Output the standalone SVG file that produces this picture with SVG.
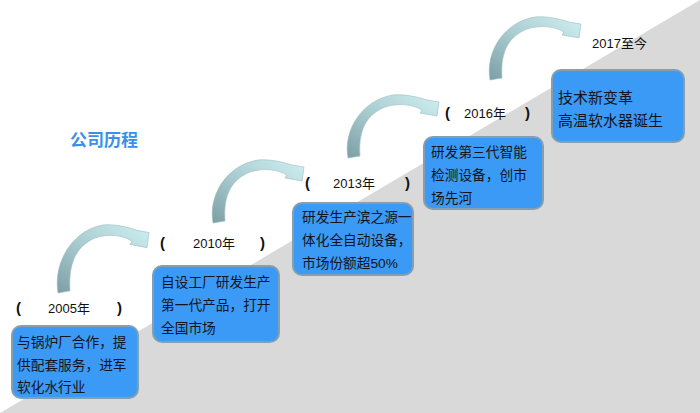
<svg xmlns="http://www.w3.org/2000/svg" xmlns:xlink="http://www.w3.org/1999/xlink" width="700" height="413" viewBox="0 0 700 413">
<style>
.box{fill:#3a9af6;stroke:#849fae;stroke-width:2}
.bt{font-family:"Liberation Sans","Noto Sans CJK SC",sans-serif;font-size:13.7px;fill:#141420}
.bt5{font-size:15px}
.yr{font-family:"Liberation Sans","Noto Sans CJK SC",sans-serif;font-size:13px;fill:#111}
.par{font-size:15px;font-weight:bold}
.title{font-family:"Noto Sans CJK SC","Liberation Sans",sans-serif;font-size:17px;font-weight:bold;fill:#3a8fe8}
.arr{fill:url(#ag);stroke:#9dbcc0;stroke-width:0.6}
</style>
<defs>
<linearGradient id="ag" x1="0" y1="1" x2="1" y2="0">
<stop offset="0" stop-color="#7b9fa4"/>
<stop offset="0.5" stop-color="#a9cdd1"/>
<stop offset="1" stop-color="#d0f0f2"/>
</linearGradient>
<path id="arrow" class="arr" d="M348,158 C343,130 362,100 393,95 C405,94 418,97 427,100 L439,102 L437,116 L420,113 L422,110 C412,104 398,103 385,107 C368,114 358,128 360,156 Z"/>
</defs>
<rect width="700" height="413" fill="#ffffff"/>
<polygon points="0,413 700,0 700,413" fill="#d9d9d9"/>
<text class="title" x="70" y="146">公司历程</text>
<g id="connectors">
<use xlink:href="#arrow" href="#arrow" transform="translate(-290,293) scale(1,1.08) translate(0,-158)"/>
<use xlink:href="#arrow" href="#arrow" transform="translate(-135,65)"/>
<use xlink:href="#arrow" href="#arrow"/>
<use xlink:href="#arrow" href="#arrow" transform="translate(142,-78)"/>
</g>
<g id="node2005">
<text class="yr" y="313"><tspan class="par" x="16">(</tspan><tspan x="48">2005年</tspan><tspan class="par" x="117">)</tspan></text>
<rect class="box" x="12" y="326" width="126" height="72" rx="9"/>
<text class="bt"><tspan x="17" y="347">与锅炉厂合作，提</tspan><tspan x="17" y="369.5">供配套服务，进军</tspan><tspan x="17" y="392">软化水行业</tspan></text>
</g>
<g id="node2010">
<text class="yr" y="248"><tspan class="par" x="160">(</tspan><tspan x="193">2010年</tspan><tspan class="par" x="260">)</tspan></text>
<rect class="box" x="153" y="266" width="126" height="76" rx="9"/>
<text class="bt"><tspan x="161" y="287">自设工厂研发生产</tspan><tspan x="161" y="310">第一代产品，打开</tspan><tspan x="161" y="333">全国市场</tspan></text>
</g>
<g id="node2013">
<text class="yr" y="188"><tspan class="par" x="305">(</tspan><tspan x="333">2013年</tspan><tspan class="par" x="405">)</tspan></text>
<rect class="box" x="293" y="203" width="120" height="72" rx="9"/>
<text class="bt"><tspan x="302" y="222">研发生产滨之源一</tspan><tspan x="302" y="245">体化全自动设备，</tspan><tspan x="302" y="268">市场份额超50%</tspan></text>
</g>
<g id="node2016">
<text class="yr" y="118"><tspan class="par" x="445">(</tspan><tspan x="464">2016年</tspan><tspan class="par" x="525">)</tspan></text>
<rect class="box" x="424" y="137" width="119" height="72" rx="9"/>
<text class="bt"><tspan x="431" y="157">研发第三代智能</tspan><tspan x="431" y="180">检测设备，创市</tspan><tspan x="431" y="203">场先河</tspan></text>
</g>
<g id="node2017">
<text class="yr" x="592" y="48">2017至今</text>
<rect class="box" x="552" y="70" width="132" height="72" rx="9"/>
<text class="bt bt5"><tspan x="558" y="102.5">技术新变革</tspan><tspan x="558" y="125.5">高温软水器诞生</tspan></text>
</g>
</svg>
